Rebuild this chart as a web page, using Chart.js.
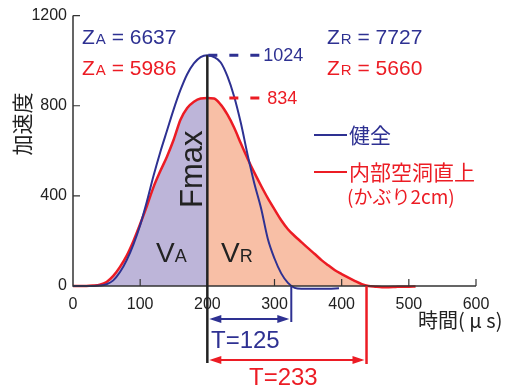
<!DOCTYPE html>
<html>
<head>
<meta charset="utf-8">
<script src="https://cdn.jsdelivr.net/npm/chart.js@4.4.0/dist/chart.umd.min.js"></script>
<style>
body { margin: 0; background: #fff; }
#wrap { width: 506px; height: 387px; position: relative; }
</style>
</head>
<body>
<div id="wrap"><canvas id="accel-chart"></canvas></div>
<script>
// 健全 (blue)
const blueTime = [0,10,20,30,40,50,60,70,80,90,100,110,120,130,140,150,160,170,180,190,200,210,220,230,240,250,260,270,280,290,300,310,320,330,340,360,380,396]
const blueAcc  = [0,0,0,0,2,8,25,62,115,185,270,375,490,595,690,785,870,940,988,1016,1024,1016,992,930,840,722,582,455,345,210,122,56,14,-8,-12,-12,-12,-10]

// 内部空洞直上 (red)
const redTime = [0,10,20,30,40,50,60,70,80,90,100,110,120,130,140,150,160,170,180,190,200,210,220,230,240,250,260,270,280,290,300,310,320,330,340,350,360,370,380,390,400,410,420,430,440,450,460,470,480,490,500,510]
const redAcc  = [0,0,0,2,6,18,45,85,135,200,275,355,440,510,575,650,738,790,818,832,834,832,805,760,702,632,565,503,445,390,340,292,252,222,195,168,142,115,92,70,53,37,22,8,0,-3,-5,-5,-4,-3,-3,-2]

const seriesNames = ["健全", "内部空洞直上"]
const subNote = "(かぶり2cm)"
const yTicks = [0, 400, 800, 1200]
const xTicks = [0, 100, 200, 300, 400, 500, 600]

const peakTime = 200
const peakValues = [1024, 834]
const zA = [6637, 5986]
const zR = [7727, 5660]
const endTimes = [325, 437]   // T = 125, 233
const tValues = [125, 233]

const BLUE = "#2e3192"
const RED = "#ec1c24"
const JP = '"Noto Sans CJK JP", sans-serif'
const LAT = '"Liberation Sans", Arial, sans-serif'

function toPts(xs, ys) {
  return xs.map((x, i) => ({x: x, y: ys[i]}))
}
const redPts = toPts(redTime, redAcc)
const leftFill = redPts.filter(p => p.x <= peakTime)
const rightFill = redPts.filter(p => p.x >= peakTime && p.x <= endTimes[1] + 3)

function subText(ctx, x, y, big, small, rest, color) {
  ctx.fillStyle = color
  ctx.textAlign = "left"
  ctx.textBaseline = "alphabetic"
  ctx.font = "21px " + LAT
  ctx.fillText(big, x, y)
  x += ctx.measureText(big).width + 1
  ctx.font = "15px " + LAT
  ctx.fillText(small, x, y)
  x += ctx.measureText(small).width
  ctx.font = "21px " + LAT
  ctx.fillText(rest, x, y)
}

function bigSub(ctx, x, y, big, small) {
  ctx.fillStyle = "#222"
  ctx.textAlign = "left"
  ctx.textBaseline = "alphabetic"
  ctx.font = "28px " + LAT
  ctx.fillText(big, x, y)
  x += ctx.measureText(big).width
  ctx.font = "18px " + LAT
  ctx.fillText(small, x, y)
}

function head(ctx, x, y, dir, color) {
  ctx.fillStyle = color
  ctx.beginPath()
  ctx.moveTo(x, y)
  ctx.lineTo(x + dir * 12, y - 4)
  ctx.lineTo(x + dir * 12, y + 4)
  ctx.closePath()
  ctx.fill()
}

function arrowH(ctx, x1, x2, y, color) {
  ctx.strokeStyle = color
  ctx.lineWidth = 2
  ctx.beginPath()
  ctx.moveTo(x1 + 4, y)
  ctx.lineTo(x2 - 4, y)
  ctx.stroke()
  head(ctx, x1 + 1, y, 1, color)
  head(ctx, x2 - 1, y, -1, color)
}

const extras = {
  id: "extras",
  afterDatasetsDraw(chart) {
    const ctx = chart.ctx
    const xs = chart.scales.x
    const ys = chart.scales.y
    const x0 = xs.getPixelForValue(0)
    const y0 = ys.getPixelForValue(0)
    ctx.save()

    // axes
    ctx.strokeStyle = "#333"
    ctx.lineWidth = 1.5
    ctx.beginPath()
    ctx.moveTo(x0, ys.getPixelForValue(1200))
    ctx.lineTo(x0, y0)
    ctx.lineTo(xs.getPixelForValue(600), y0)
    ctx.stroke()
    ctx.lineWidth = 1.2
    ctx.beginPath()
    yTicks.slice(1).forEach(v => {
      const p = ys.getPixelForValue(v)
      ctx.moveTo(x0, p); ctx.lineTo(x0 + 7, p)
    })
    xTicks.slice(1).forEach(v => {
      const p = xs.getPixelForValue(v)
      ctx.moveTo(p, y0); ctx.lineTo(p, y0 - 7)
    })
    ctx.stroke()

    // peak line
    const px = xs.getPixelForValue(peakTime)
    ctx.strokeStyle = "#222"
    ctx.lineWidth = 2.5
    ctx.beginPath()
    ctx.moveTo(px, ys.getPixelForValue(peakValues[0]))
    ctx.lineTo(px, 363)
    ctx.stroke()

    // dashed peak markers
    ctx.lineWidth = 3
    ctx.setLineDash([9, 12])
    const cols = [BLUE, RED]
    peakValues.forEach((v, i) => {
      const py = ys.getPixelForValue(v)
      ctx.strokeStyle = cols[i]
      ctx.beginPath()
      ctx.moveTo(px + 1 + i * 21, py)
      ctx.lineTo(px + 52, py)
      ctx.stroke()
      ctx.fillStyle = cols[i]
      ctx.font = "18px " + LAT
      ctx.textAlign = "left"
      ctx.textBaseline = "middle"
      ctx.fillText(String(v), px + 56 + i * 4, py + 1)
    })
    ctx.setLineDash([])

    // Z values
    subText(ctx, 82, 44, "Z", "A", " = " + zA[0], BLUE)
    subText(ctx, 82, 75, "Z", "A", " = " + zA[1], RED)
    subText(ctx, 327, 44, "Z", "R", " = " + zR[0], BLUE)
    subText(ctx, 327, 75, "Z", "R", " = " + zR[1], RED)

    // V labels
    bigSub(ctx, 156, 262, "V", "A")
    bigSub(ctx, 221, 262, "V", "R")

    // Fmax
    ctx.save()
    ctx.translate(202, 208)
    ctx.rotate(-Math.PI / 2)
    ctx.fillStyle = "#222"
    ctx.font = "31px " + LAT
    ctx.textAlign = "left"
    ctx.textBaseline = "alphabetic"
    ctx.fillText("Fmax", 0, 0)
    ctx.restore()

    // legend
    ctx.lineWidth = 2
    ctx.font = "21px " + JP
    ctx.textAlign = "left"
    ctx.textBaseline = "middle"
    ;[135, 172].forEach((ly, i) => {
      ctx.strokeStyle = cols[i]
      ctx.beginPath()
      ctx.moveTo(314, ly); ctx.lineTo(347, ly)
      ctx.stroke()
      ctx.fillStyle = cols[i]
      ctx.fillText(seriesNames[i], 349, ly)
    })
    ctx.font = "19px " + JP
    ctx.fillStyle = RED
    ctx.fillText(subNote, 347, 197)

    // T arrows
    const ex0 = xs.getPixelForValue(endTimes[0])
    const ex1 = xs.getPixelForValue(endTimes[1])
    ctx.strokeStyle = BLUE
    ctx.lineWidth = 2
    ctx.beginPath(); ctx.moveTo(ex0, y0); ctx.lineTo(ex0, 322); ctx.stroke()
    ctx.strokeStyle = RED
    ctx.lineWidth = 2.5
    ctx.beginPath(); ctx.moveTo(ex1, y0); ctx.lineTo(ex1, 364); ctx.stroke()
    arrowH(ctx, px + 1, ex0 - 1, 319, BLUE)
    arrowH(ctx, px + 1, ex1 - 1, 360, RED)
    ctx.font = "24px " + LAT
    ctx.textBaseline = "alphabetic"
    ctx.fillStyle = BLUE
    ctx.fillText("T=" + tValues[0], 211, 348)
    ctx.fillStyle = RED
    ctx.fillText("T=" + tValues[1], 249, 385)

    // axis titles
    ctx.fillStyle = "#222"
    ctx.font = "20px " + JP
    ctx.textBaseline = "middle"
    ctx.fillText("時間( μ s)", 418, 320)
    ctx.save()
    ctx.translate(22, 124)
    ctx.rotate(-Math.PI / 2)
    ctx.textAlign = "center"
    ctx.font = "21px " + JP
    ctx.fillText("加速度", 0, 0)
    ctx.restore()

    ctx.restore()
  }
}

const ctx = document.getElementById("accel-chart").getContext("2d")
new Chart(ctx, {
  type: "line",
  data: {
    datasets: [
      {
        label: seriesNames[0],
        data: toPts(blueTime, blueAcc),
        borderColor: BLUE,
        borderWidth: 2,
        pointRadius: 0,
        fill: false,
        cubicInterpolationMode: "monotone",
        clip: false,
        order: 0
      },
      {
        label: seriesNames[1],
        data: redPts,
        borderColor: RED,
        borderWidth: 2.5,
        pointRadius: 0,
        fill: false,
        cubicInterpolationMode: "monotone",
        clip: false,
        order: 0
      },
      {
        label: "VA",
        data: leftFill,
        borderWidth: 0,
        pointRadius: 0,
        backgroundColor: "#bdb5d9",
        fill: "origin",
        cubicInterpolationMode: "monotone",
        order: 1
      },
      {
        label: "VR",
        data: rightFill,
        borderWidth: 0,
        pointRadius: 0,
        backgroundColor: "#f8bfa6",
        fill: "origin",
        cubicInterpolationMode: "monotone",
        order: 1
      }
    ]
  },
  options: {
    animation: false,
    responsive: true,
    maintainAspectRatio: false,
    layout: {
      padding: {left: 0, top: 15, right: 30, bottom: 0}
    },
    plugins: {
      legend: {display: false},
      tooltip: {enabled: false}
    },
    scales: {
      x: {
        type: "linear",
        min: 0,
        max: 600,
        afterFit: s => { s.height = 101 },
        afterBuildTicks: s => { s.ticks = xTicks.map(v => ({value: v})) },
        grid: {display: false, drawTicks: false},
        border: {display: false},
        ticks: {color: "#222", font: {size: 16, family: LAT}, padding: 9, maxRotation: 0, callback: v => String(v)}
      },
      y: {
        min: 0,
        max: 1200,
        afterFit: s => { s.width = 73 },
        afterBuildTicks: s => { s.ticks = yTicks.map(v => ({value: v})) },
        grid: {display: false, drawTicks: false},
        border: {display: false},
        ticks: {color: "#222", font: {size: 16, family: LAT}, padding: 6, callback: v => String(v)}
      }
    }
  },
  plugins: [extras]
})
</script>
</body>
</html>
